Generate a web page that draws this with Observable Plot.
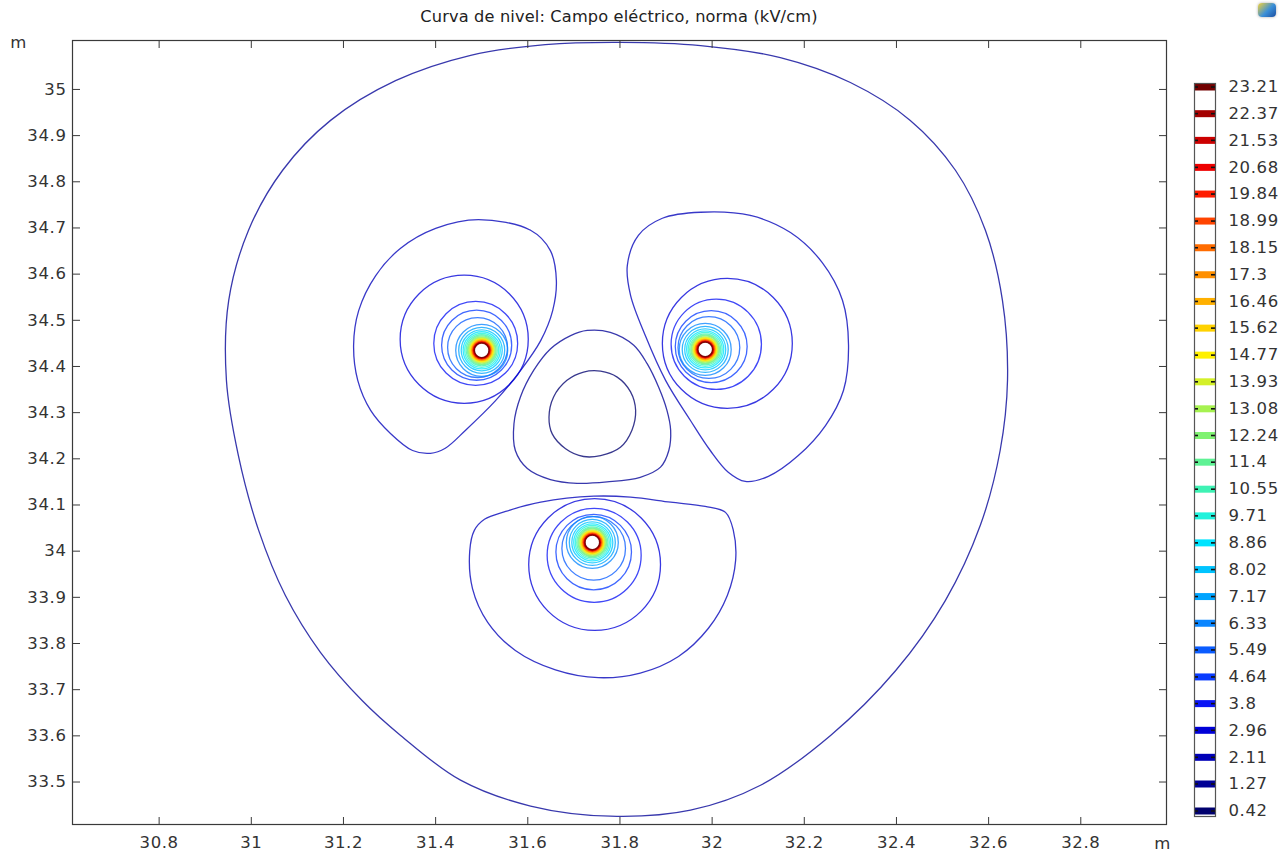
<!DOCTYPE html>
<html><head><meta charset="utf-8">
<script src="https://cdn.jsdelivr.net/npm/d3@7"></script>
<script src="https://cdn.jsdelivr.net/npm/@observablehq/plot@0.6"></script>
<style>
body{margin:0;background:#fff;font-family:"DejaVu Sans",sans-serif;}
#wrap{position:relative;width:1286px;height:852px;overflow:hidden;background:#fff;}
#title{position:absolute;left:0;width:1238px;top:7px;text-align:center;font-size:16.2px;letter-spacing:0.15px;color:#222;white-space:nowrap;}
#main{position:absolute;left:0;top:0;}
#cbar{position:absolute;left:1166px;top:0;}
#icon{position:absolute;left:1258px;top:3px;width:18px;height:14px;border-radius:4px;background:linear-gradient(135deg,#f3d23a 0%,#3a8fd8 55%,#1c4fa0 100%);box-shadow:0 0 3px #aaa;}
</style></head>
<body><div id="wrap"><div id="title">Curva de nivel: Campo eléctrico, norma (kV/cm)</div><div id="main"></div><div id="cbar"></div><div id="icon"></div></div>
<script>
// ---- contour levels (kV/cm) and their colours ----
const levels = [0.42,1.27,2.11,2.96,3.8,4.64,5.49,6.33,7.17,8.02,8.86,9.71,10.55,11.4,12.24,13.08,13.93,14.77,15.62,16.46,17.3,18.15,18.99,19.84,20.68,21.53,22.37,23.21];
const levelLabels = ["0.42","1.27","2.11","2.96","3.8","4.64","5.49","6.33","7.17","8.02","8.86","9.71","10.55","11.4","12.24","13.08","13.93","14.77","15.62","16.46","17.3","18.15","18.99","19.84","20.68","21.53","22.37","23.21"];
const levelColors = ["#00006e","#000096","#0000b8","#0000d8","#0a14f5","#0a3cff","#0a5cff","#0a86ff","#00a4ff","#00c4ff","#00e4ff","#20f2dc","#3ef2b4","#5ef294","#80f272","#a6f250","#d4f028","#fff000","#ffd200","#ffb000","#ff9000","#ff6c00","#ff4400","#ff1c00","#ee0000","#cc0000","#a40000","#720000"];

// ---- axis ticks ----
const xTicks = [30.8,31,31.2,31.4,31.6,31.8,32,32.2,32.4,32.6,32.8];
const yTicks = [33.5,33.6,33.7,33.8,33.9,34,34.1,34.2,34.3,34.4,34.5,34.6,34.7,34.8,34.9,35];
const xDomain = [30.612, 32.986];
const yDomain = [33.408, 35.106];

const outerContour = [[31.801,35.102],[31.975,35.095],[32.148,35.069],[32.300,35.015],[32.430,34.933],[32.528,34.825],[32.593,34.695],[32.630,34.543],[32.641,34.370],[32.625,34.218],[32.582,34.056],[32.506,33.893],[32.398,33.741],[32.257,33.601],[32.105,33.493],[31.953,33.439],[31.779,33.426],[31.606,33.448],[31.454,33.504],[31.324,33.601],[31.241,33.676],[31.150,33.781],[31.074,33.904],[31.016,34.045],[30.972,34.207],[30.946,34.370],[30.951,34.543],[30.994,34.695],[31.068,34.825],[31.172,34.933],[31.313,35.019],[31.476,35.074],[31.638,35.097]];
const leftLobe = [[31.493,34.718],[31.606,34.695],[31.649,34.651],[31.662,34.586],[31.654,34.521],[31.628,34.456],[31.584,34.391],[31.530,34.326],[31.465,34.262],[31.421,34.223],[31.389,34.212],[31.350,34.218],[31.302,34.255],[31.259,34.305],[31.231,34.370],[31.222,34.446],[31.233,34.521],[31.270,34.597],[31.324,34.656],[31.400,34.699]];
const rightLobe = [[31.975,34.734],[32.083,34.727],[32.170,34.690],[32.239,34.625],[32.283,34.543],[32.296,34.446],[32.285,34.348],[32.246,34.272],[32.187,34.207],[32.122,34.162],[32.072,34.151],[32.035,34.171],[31.996,34.218],[31.953,34.283],[31.899,34.370],[31.855,34.467],[31.823,34.554],[31.816,34.619],[31.840,34.684],[31.892,34.721]];
const bottomLobe = [[31.474,34.000],[31.484,34.045],[31.506,34.069],[31.552,34.086],[31.628,34.106],[31.743,34.119],[31.823,34.117],[31.910,34.106],[31.985,34.097],[32.029,34.084],[32.046,34.045],[32.051,33.980],[32.033,33.904],[31.992,33.833],[31.927,33.772],[31.844,33.736],[31.753,33.726],[31.660,33.743],[31.573,33.785],[31.513,33.846],[31.480,33.919]];
const centerTriangle = [[31.779,34.474],[31.830,34.446],[31.859,34.406],[31.884,34.355],[31.902,34.305],[31.910,34.262],[31.906,34.218],[31.888,34.182],[31.844,34.160],[31.772,34.150],[31.707,34.147],[31.649,34.155],[31.599,34.179],[31.573,34.218],[31.570,34.276],[31.584,34.334],[31.613,34.392],[31.649,34.438],[31.693,34.467],[31.729,34.478]];
const centerOval = [[31.758,34.390],[31.794,34.377],[31.823,34.345],[31.834,34.305],[31.826,34.262],[31.801,34.225],[31.758,34.207],[31.721,34.205],[31.682,34.222],[31.653,34.254],[31.646,34.290],[31.656,34.334],[31.685,34.370],[31.721,34.388]];

const contourLevels = [1.27, 2.11, 2.11, 2.11, 1.27, 0.42];
const contourShapes = [outerContour, leftLobe, rightLobe, bottomLobe, centerTriangle, centerOval];

// ---- rings around the three conductors: [level, cx, cy, radius] (m) ----
const outerRings = [
  [2.96,31.462,34.459,0.139],[3.8,31.487,34.450,0.091],[4.64,31.489,34.446,0.076],[5.49,31.491,34.441,0.065],
  [2.96,32.033,34.450,0.141],[3.8,32.009,34.448,0.098],[4.64,31.998,34.443,0.078],[5.49,31.993,34.441,0.067],
  [2.96,31.745,33.971,0.143],[3.8,31.744,33.991,0.102],[4.64,31.743,33.998,0.082],[5.49,31.743,34.006,0.069]
];
const conductors = [[31.500,34.435],[31.985,34.437],[31.740,34.019]];
const innerLevels = [6.33,7.17,8.02,8.86,9.71,10.55,11.4,12.24,13.08,13.93,14.77,15.62,16.46,17.3,18.15,18.99,19.84,20.68,21.53,22.37,23.21];
const innerRadii = [0.0564,0.0499,0.0445,0.0403,0.0369,0.0338,0.0312,0.0293,0.0273,0.0256,0.0243,0.0230,0.0219,0.0208,0.0200,0.0191,0.0182,0.0176,0.0169,0.0165,0.0158];

// ---- build tables ----
const contourRows = contourShapes.flatMap((pts, k) => pts.map(([x, y]) => ({id: k, level: contourLevels[k], x, y})));
const ringRows = outerRings.map(([level, x, y, r]) => ({level, x, y, r}))
  .concat(conductors.flatMap(([x, y]) => innerLevels.map((level, i) => ({level, x, y, r: innerRadii[i]}))));

const W = 1286, H = 852, mL = 72, mT = 40, mR = 120, mB = 28;
const pxPerUnit = (W - mL - mR) / (xDomain[1] - xDomain[0]);
const colorScale = {type: "ordinal", domain: levels, range: levelColors};
const font = {fontFamily: "DejaVu Sans", fontSize: "16.5px", color: "#333", background: "transparent", letterSpacing: "0.6px"};
const lineW = 1.3, lineOpacity = 0.78;

const main = Plot.plot({
  width: W, height: H, marginLeft: mL, marginTop: mT, marginRight: mR, marginBottom: mB,
  style: font,
  x: {domain: xDomain, label: null},
  y: {domain: yDomain, label: null},
  color: colorScale,
  r: {type: "linear", domain: [0, 1], range: [0, pxPerUnit]},
  marks: [
    Plot.line(contourRows, {x: "x", y: "y", z: "id", stroke: "level", strokeWidth: lineW, strokeOpacity: lineOpacity, curve: "catmull-rom-closed"}),
    Plot.dot(ringRows, {x: "x", y: "y", r: "r", stroke: "level", fill: "none", strokeWidth: lineW, strokeOpacity: lineOpacity}),
    Plot.frame({stroke: "#3a3a3a", strokeWidth: 1.2}),
    Plot.axisX({anchor: "bottom", ticks: xTicks, tickFormat: d => String(d), tickSize: -7, tickPadding: 19, label: null, stroke: "#3a3a3a", fill: "#333"}),
    Plot.axisX({anchor: "top", ticks: xTicks, tickSize: -7, tickFormat: () => "", label: null, stroke: "#3a3a3a"}),
    Plot.axisY({anchor: "left", ticks: yTicks, tickFormat: d => String(d), tickSize: -8, tickPadding: 14, label: null, stroke: "#3a3a3a", fill: "#333"}),
    Plot.axisY({anchor: "right", ticks: yTicks, tickSize: -8, tickFormat: () => "", label: null, stroke: "#3a3a3a"}),
    Plot.text(["m"], {text: d => d, frameAnchor: "top-left", textAnchor: "middle", lineAnchor: "middle", dx: -54, dy: 2, fill: "#333"}),
    Plot.text(["m"], {text: d => d, frameAnchor: "bottom-right", textAnchor: "middle", lineAnchor: "middle", dx: -4, dy: 19, fill: "#333"})
  ]
});
document.getElementById("main").appendChild(main);

const cbar = Plot.plot({
  width: 120, height: H, marginLeft: 28, marginRight: 71, marginTop: 83, marginBottom: 36,
  style: font,
  x: {domain: [0, 1], axis: null},
  y: {domain: [levels[0], levels[levels.length - 1]], axis: null, insetTop: 3.5, insetBottom: 5.5},
  color: colorScale,
  marks: [
    Plot.ruleY(levels, {y: d => d, stroke: d => d, strokeWidth: 7}),
    Plot.ruleY(levels, {y: d => d, stroke: "#111", strokeWidth: 1.6, insetRight: 17}),
    Plot.ruleY(levels, {y: d => d, stroke: "#111", strokeWidth: 1.6, insetLeft: 17}),
    Plot.frame({stroke: "#555", strokeWidth: 1.2}),
    Plot.text(levels, {y: d => d, text: (d, i) => levelLabels[i], frameAnchor: "right", dx: 13, textAnchor: "start", fill: "#333"})
  ]
});
document.getElementById("cbar").appendChild(cbar);
</script>
</body></html>
